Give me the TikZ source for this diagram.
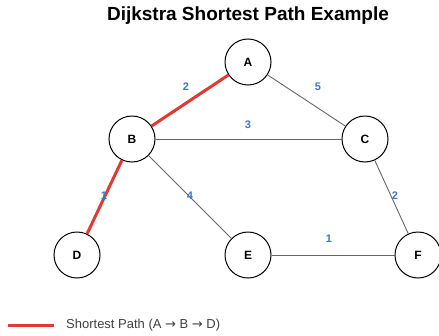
\documentclass[tikz,border=0pt]{standalone}
\usepackage{fontspec}
\setmainfont{Liberation Sans}
\newfontfamily\arrowfont{DejaVu Sans}
\definecolor{pathred}{HTML}{E03A33}
\definecolor{wblue}{HTML}{3A78C9}
\begin{document}
\begin{tikzpicture}[x=1pt,y=-1pt,
  vertex/.style={circle,draw=black,line width=1pt,fill=white,minimum size=46pt,inner sep=0pt,font=\bfseries\fontsize{12}{14}\selectfont},
  edge/.style={draw=black!60,line width=0.9pt},
  best/.style={draw=pathred,line width=3pt},
  wlabel/.style={text=wblue,font=\bfseries\fontsize{11}{13}\selectfont}]
\useasboundingbox (0,0) rectangle (439,335);
\node[font=\bfseries\fontsize{19}{22}\selectfont] (title) at (248,16) {Dijkstra Shortest Path Example};
\node[vertex] (A) at (248,62) {A};
\node[vertex] (B) at (132,139) {B};
\node[vertex] (C) at (365,139) {C};
\node[vertex] (D) at (77,255) {D};
\node[vertex] (E) at (248,255) {E};
\node[vertex] (F) at (418,255) {F};
\draw[edge] (A) -- (C);
\draw[edge] (B) -- (C);
\draw[edge] (B) -- (E);
\draw[edge] (C) -- (F);
\draw[edge] (E) -- (F);
\draw[best] (A) -- (B);
\draw[best] (B) -- (D);
\node[wlabel] (w1) at (186,87) {2};
\node[wlabel] (w2) at (318,87) {5};
\node[wlabel] (w3) at (248,125) {3};
\node[wlabel] (w4) at (104,196) {1};
\node[wlabel] (w5) at (190,196) {4};
\node[wlabel] (w6) at (395,196) {2};
\node[wlabel] (w7) at (329,239) {1};
\coordinate (l1) at (8,325);
\coordinate (l2) at (54,325);
\draw[best] (l1) -- (l2);
\node[anchor=west,text=black!75,font=\fontsize{13}{15}\selectfont,inner sep=0pt] (legend) at (66,325) {Shortest Path (A {\arrowfont →} B {\arrowfont →} D)};
\end{tikzpicture}
\end{document}
